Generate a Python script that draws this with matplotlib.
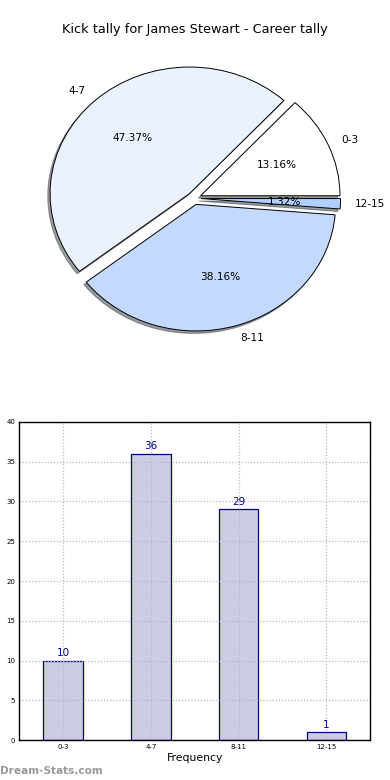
import matplotlib
matplotlib.use('Agg')
import matplotlib.pyplot as plt

# kick tally data
categories = ['0-3', '4-7', '8-11', '12-15']
counts = [10, 36, 29, 1]
pie_colours = ['#FFFFFF', '#EAF1FF', '#C4D9FF', '#B0D0FF']
title = 'Kick tally for James Stewart - Career tally'

fig = plt.figure(figsize=(3.9, 7.8), dpi=100)
W, H = 390.0, 780.0

# title on top of the pie
fig.text(0.5, 1 - 30 / H, title, ha='center', va='center', fontsize=9.3)

########################################################################
# pie chart (old style, not equal aspect)
########################################################################
cx, cy = 194.2, 198.3          # centre in pixels from top-left
sx, sy = 139.4, 126.6          # pixels per data unit
lim = 1.25
pw, ph = 2 * lim * sx, 2 * lim * sy
ax_pie = fig.add_axes([(cx - pw / 2) / W, (H - cy - ph / 2) / H, pw / W, ph / H])
wedges, texts, autotexts = ax_pie.pie(counts, labels=categories, colors=pie_colours,
                                      explode=[0.05] * len(counts), autopct='%1.2f%%',
                                      shadow={'ox': -0.012, 'oy': -0.014, 'shade': 0.75},
                                      startangle=0, labeldistance=1.1,
                                      pctdistance=0.6,
                                      wedgeprops={'edgecolor': 'black', 'linewidth': 0.7},
                                      textprops={'fontsize': 7.6})
ax_pie.set_aspect('auto')
ax_pie.set_xlim(-lim, lim)
ax_pie.set_ylim(-lim, lim)
ax_pie.axis('off')

########################################################################
# bar chart
########################################################################
left, right, top, bottom = 19.3, 370.3, 421.7, 740.3
ax_bar = fig.add_axes([left / W, (H - bottom) / H, (right - left) / W, (bottom - top) / H])
x = list(range(len(categories)))
ax_bar.bar(x, counts, width=0.45, color='#CCCCE5', edgecolor='#000080', linewidth=0.9, zorder=1)
for xi, c in zip(x, counts):
    ax_bar.text(xi, c + 0.3, str(c), ha='center', va='bottom', color='#000080', fontsize=7.5)

ax_bar.set_xlim(-0.5, 3.5)
ax_bar.set_ylim(0, 40)
ax_bar.set_xticks(x)
ax_bar.set_xticklabels(categories)
ax_bar.set_yticks(range(0, 41, 5))
ax_bar.tick_params(axis='both', labelsize=5, length=0, pad=3)
ax_bar.grid(True, linestyle=(0, (1, 1.5)), color='#b8b8b8', linewidth=0.9, zorder=3)
ax_bar.set_axisbelow(False)
for s in ax_bar.spines.values():
    s.set_linewidth(1.0)
    s.set_zorder(4)
ax_bar.set_xlabel('Frequency', fontsize=7.8, labelpad=2)

# watermark
fig.text(0 / W, 1 - 771 / H, 'Dream-Stats.com', ha='left', va='center',
         fontsize=7.6, color='#999999', fontweight='bold')

plt.savefig('out.png', dpi=100)
